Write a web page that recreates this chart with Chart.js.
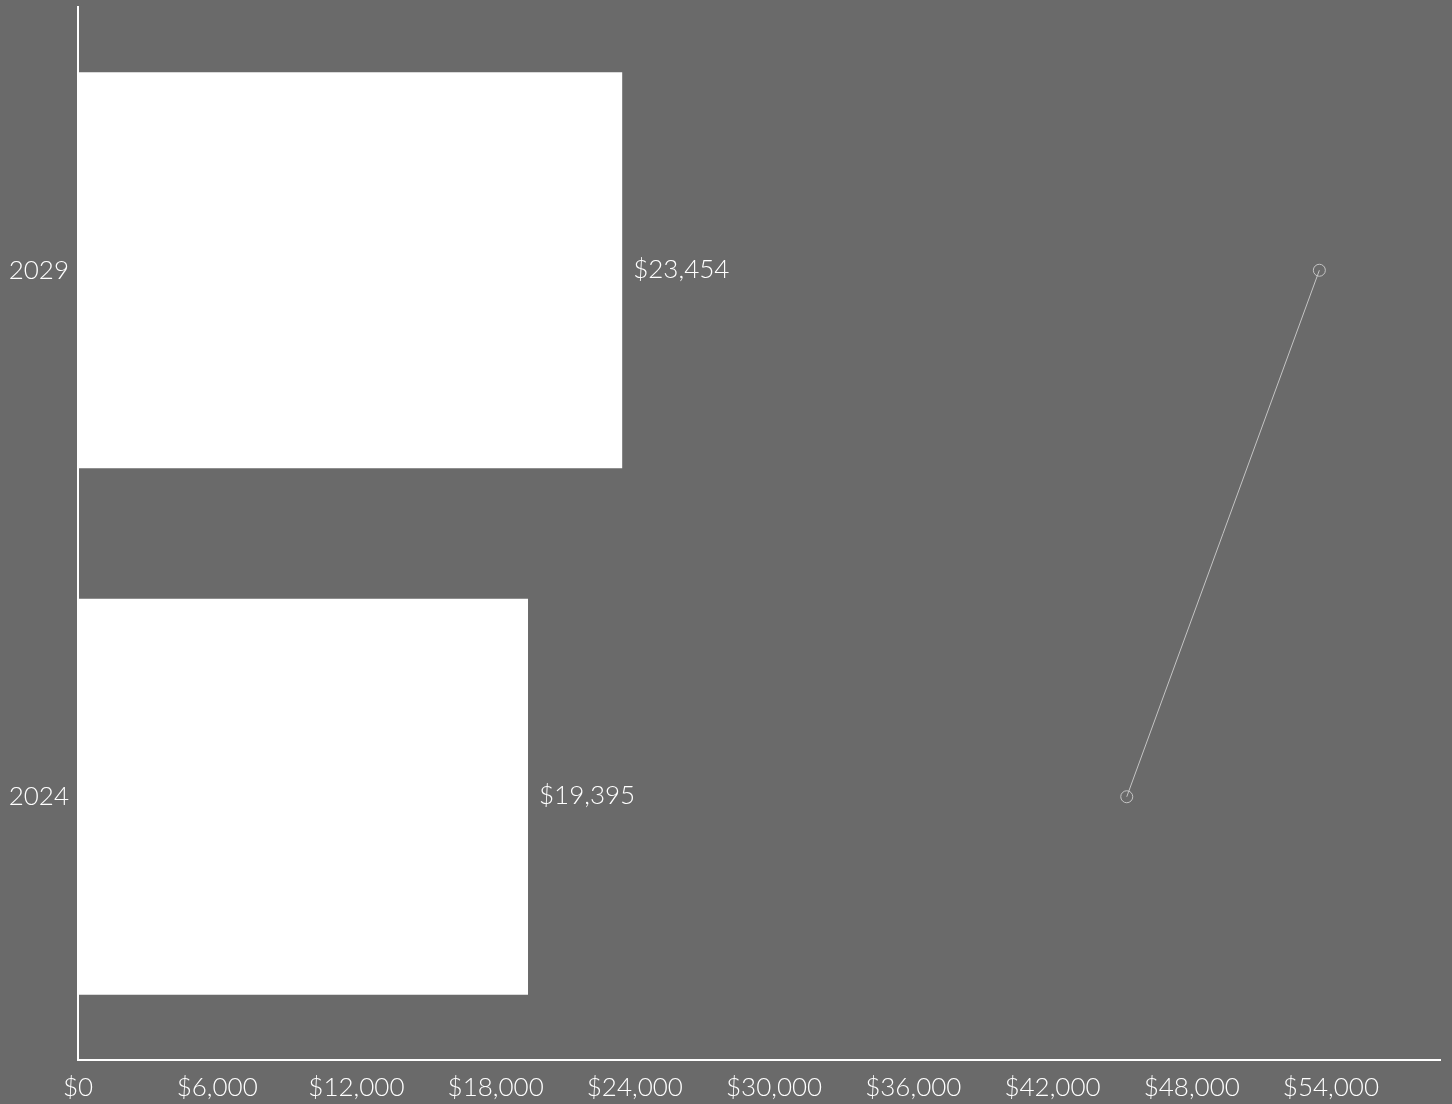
<!DOCTYPE html>
<html>
<head>
<meta charset="utf-8">
<script src="https://cdn.jsdelivr.net/npm/chart.js@4/dist/chart.umd.min.js"></script>
<style>
  html, body { margin: 0; padding: 0; background: #6a6a6a; }
  #wrap { width: 1452px; height: 1104px; }
</style>
</head>
<body>
<div id="wrap"><canvas id="grafico"></canvas></div>
<script>
const years = ["2029", "2024"];
const barValues = [23454, 19395];
const lineValues = [53500, 45200];
const tickValues = [0, 6000, 12000, 18000, 24000, 30000, 36000, 42000, 48000, 54000];
const axisMax = 58700;

const money = (v) => "$" + Math.round(v).toLocaleString("en-US");

// writes the value to the right of each bar
const barLabels = {
  id: "barLabels",
  afterDatasetsDraw(chart) {
    const ctx = chart.ctx;
    const meta = chart.getDatasetMeta(1);
    ctx.save();
    ctx.font = "300 26px Lato";
    ctx.fillStyle = "#ffffff";
    ctx.textAlign = "left";
    ctx.textBaseline = "middle";
    meta.data.forEach((bar, i) => {
      ctx.fillText(money(barValues[i]), bar.x + 11, bar.y - 1);
    });
    ctx.restore();
  },
};

const graficoCanvas = document.getElementById("grafico");

new Chart(graficoCanvas, {
  data: {
    labels: years,
    datasets: [
      {
        type: "line",
        data: lineValues,
        borderColor: "#c4c4c4",
        borderWidth: 1,
        pointRadius: 6,
        pointBorderWidth: 1,
        pointBackgroundColor: "rgba(0,0,0,0)",
        pointBorderColor: "#c4c4c4",
        order: 0,
      },
      {
        type: "bar",
        data: barValues,
        backgroundColor: "#ffffff",
        categoryPercentage: 1,
        barPercentage: 0.752,
        order: 1,
      },
    ],
  },
  options: {
    indexAxis: "y",
    responsive: true,
    maintainAspectRatio: false,
    animation: false,
    layout: { padding: { top: 3, right: 12, left: 0, bottom: 0 } },
    plugins: { legend: { display: false }, tooltip: { enabled: false } },
    scales: {
      x: {
        min: 0,
        max: axisMax,
        grid: { display: false },
        border: { color: "#ffffff", width: 2 },
        afterBuildTicks: (s) => { s.ticks = tickValues.map((v) => ({ value: v })); },
        ticks: {
          color: "#ffffff",
          font: { family: "Lato", size: 26, weight: 300 },
          padding: 4,
          maxRotation: 0,
          autoSkip: false,
          callback: (v) => money(v),
        },
        afterFit: (s) => {
          s.height = 44;
          s.paddingLeft = 0;
          s.paddingRight = 0;
        },
      },
      y: {
        grid: { display: false },
        border: { color: "#ffffff", width: 2 },
        ticks: {
          color: "#ffffff",
          font: { family: "Lato", size: 26, weight: 300 },
          padding: 1,
        },
        afterFit: (s) => {
          s.width = 78;
          s.paddingTop = 0;
          s.paddingBottom = 0;
        },
      },
    },
  },
  plugins: [barLabels],
});
</script>
</body>
</html>
